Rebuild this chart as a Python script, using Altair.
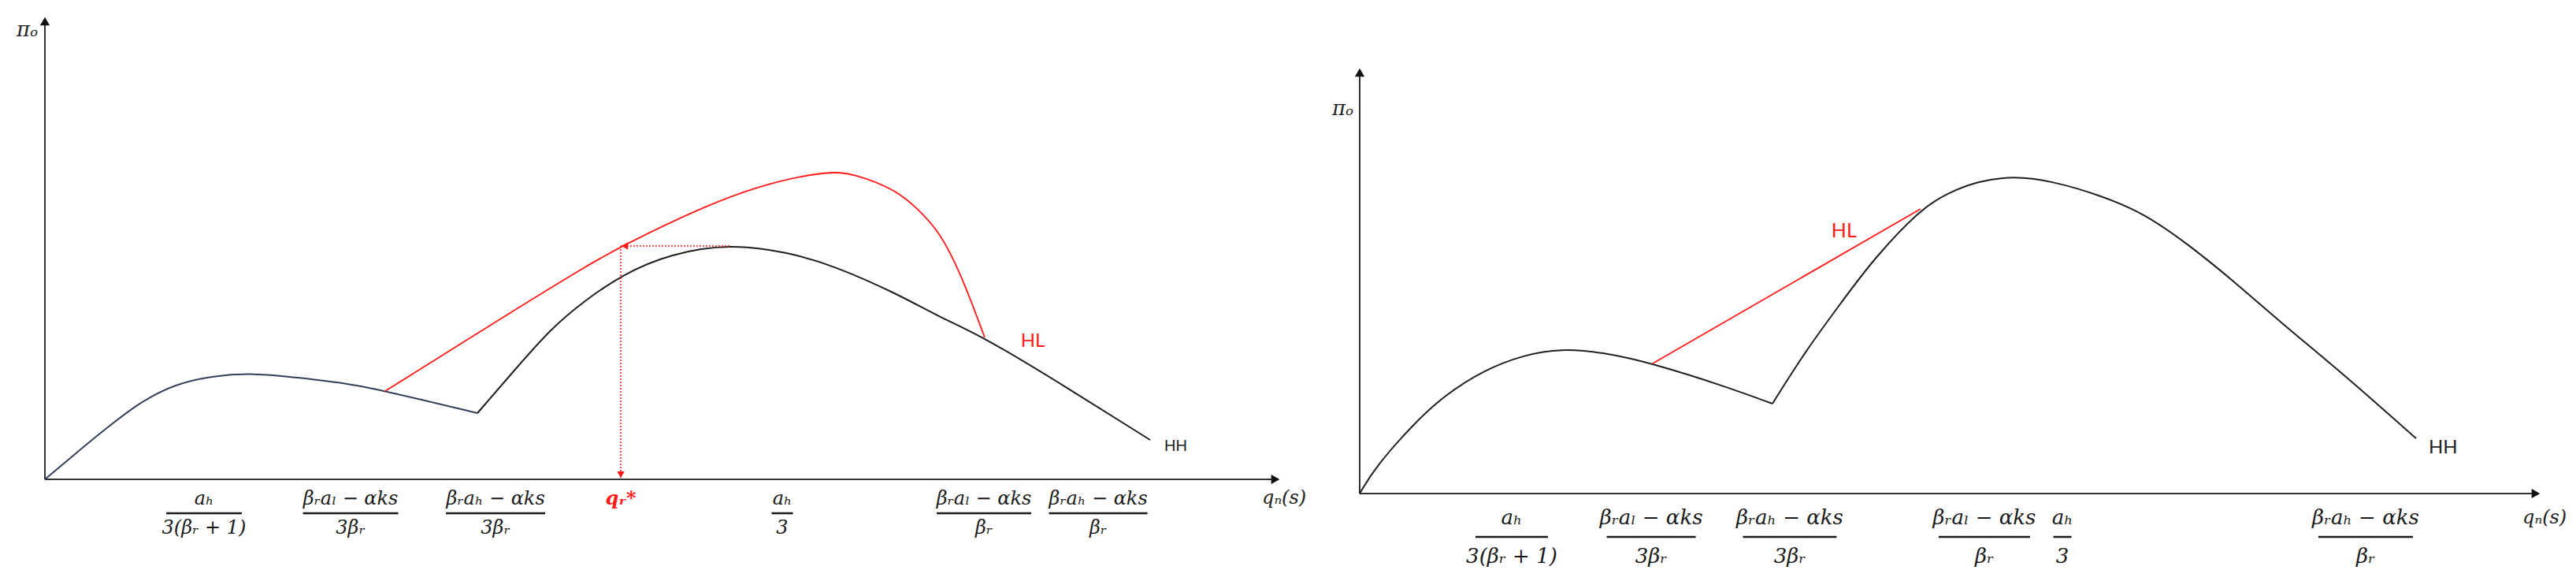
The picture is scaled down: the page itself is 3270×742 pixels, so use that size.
import altair as alt
import pandas as pd

# ---------------- data (arbitrary units: axes run 0..100) ----------------
# Left panel
L_HH1_Q = [0, 3.19, 4.92, 7.79, 10.60, 13.47, 16.86, 20.56, 24.84, 27.59, 35.06]
L_HH1_PI = [0, 7.18, 10.94, 16.92, 20.68, 22.39, 23.08, 22.05, 20.68, 19.15, 14.36]
L_HH2_Q = [35.06, 37.87, 41.06, 43.61, 46.81, 50.64, 55.56, 60.22, 63.79, 69.03, 72.48, 76.18, 82.89, 89.59]
L_HH2_PI = [14.36, 23.08, 32.82, 38.46, 44.44, 48.89, 51.11, 49.23, 46.50, 40.34, 35.21, 30.77, 19.83, 8.55]
L_HL_Q = [27.59, 37.87, 43.61, 46.62, 53.64, 58.62, 63.47, 65.58, 69.03, 70.75, 72.48, 74.20, 76.18]
L_HL_PI = [19.15, 36.41, 45.81, 50.43, 59.49, 64.27, 66.84, 66.32, 62.74, 58.63, 53.85, 44.96, 30.77]
L_QR_STAR = 46.68
L_DOT_PI = 50.6
L_HH_PEAK_Q = 55.6

# Right panel
R_HH1_Q = [0, 1.34, 4.74, 7.15, 10.55, 13.96, 17.03, 20.78, 24.85, 31.00, 35.00]
R_HH1_PI = [0, 6.32, 16.91, 23.05, 29.18, 32.71, 34.20, 33.27, 30.67, 25.28, 21.19]
R_HH2_Q = [35.00, 37.81, 40.88, 43.49, 47.56, 49.83, 52.37, 55.44, 58.78, 62.66, 66.47, 70.27, 74.15, 78.42, 83.30, 89.58]
R_HH2_PI = [21.19, 33.64, 45.17, 55.02, 67.10, 70.82, 73.61, 74.91, 73.61, 70.45, 66.17, 58.74, 50.00, 39.59, 28.44, 13.01]
R_HL_Q = [24.85, 47.56]
R_HL_PI = [30.67, 67.10]

# Tick labels (fractions) on the q axis
TICK_NUM = ["aₕ", "βᵣaₗ − αks", "βᵣaₕ − αks", "aₕ", "βᵣaₗ − αks", "βᵣaₕ − αks"]
TICK_DEN = ["3(βᵣ + 1)", "3βᵣ", "3βᵣ", "3", "βᵣ", "βᵣ"]
L_TICK_Q = [12.90, 24.78, 36.53, 59.77, 76.12, 85.38]
R_TICK_Q = [12.89, 24.72, 36.47, 59.59, 52.97, 85.30]
QR_LABEL = "qᵣ*"

# Curve labels (text, q, pi)
L_LABELS = [("HL", 79.1, 29.9), ("HH", 90.74, 7.18)]
R_LABELS = [("HL", 40.0, 61.9), ("HH", 90.65, 10.78)]
Y_TITLE = "πₒ"
X_TITLE = "qₙ(s)"

# ---------------- styles / layout ----------------
RED = "#ff1a1a"
AXIS_COLOR = "#333333"
MATH_FONT = "DejaVu Serif"
PANELS = {
    "left": dict(W=1660, H=726, x0=49, y0=600, kx=15.66, ky=5.85,
                 num_dy=25, bar_dy=43, den_dy=62, fs=24,
                 bar_w=[96, 121, 126, 27, 120, 125],
                 ytitle=(-0.57, 97.4), xtitle=(98.66, -4.10),
                 hh_font=("Liberation Sans", 20), hl_font=("Lato", 24),
                 c1="#34405a", c2="#1e1e1e"),
    "right": dict(W=1594, H=726, x0=58, y0=618, kx=14.97, ky=5.38,
                  num_dy=31, bar_dy=55, den_dy=80, fs=26,
                  bar_w=[92, 113, 119, 23, 116, 120],
                  ytitle=(-0.53, 90.7), xtitle=(98.6, -5.76),
                  hh_font=("Lato", 24), hl_font=("Lato", 25),
                  c1="#202020", c2="#202020"),
}


def make_panel(p, hh1, hh2, hl, tick_q, labels, qr=None):
    W, H = p["W"], p["H"]
    xdom = [-p["x0"] / p["kx"], (W - p["x0"]) / p["kx"]]
    ydom = [-(H - p["y0"]) / p["ky"], p["y0"] / p["ky"]]

    def X(f):
        return alt.X(f, type="quantitative", scale=alt.Scale(domain=xdom, nice=False, zero=False), axis=None)

    def Y(f):
        return alt.Y(f, type="quantitative", scale=alt.Scale(domain=ydom, nice=False, zero=False), axis=None)

    layers = []
    # axes
    axes_df = pd.DataFrame({"q": [0, 0], "pi": [0, 0], "q2": [100, 0], "pi2": [0, 100]})
    layers.append(alt.Chart(axes_df).mark_rule(color=AXIS_COLOR, strokeWidth=2).encode(
        x=X("q"), y=Y("pi"), x2="q2", y2="pi2"))
    layers.append(alt.Chart(pd.DataFrame({"q": [100], "pi": [0]})).mark_point(
        shape="triangle-right", filled=True, size=150, color="#111", opacity=1, xOffset=-4).encode(
        x=X("q"), y=Y("pi")))
    layers.append(alt.Chart(pd.DataFrame({"q": [0], "pi": [100]})).mark_point(
        shape="triangle-up", filled=True, size=150, color="#111", opacity=1, yOffset=4).encode(
        x=X("q"), y=Y("pi")))

    # curves
    rows = []
    for q, v in zip(*hh1):
        rows.append({"q": q, "pi": v, "seg": "a", "col": p["c1"]})
    for q, v in zip(*hh2):
        rows.append({"q": q, "pi": v, "seg": "b", "col": p["c2"]})
    layers.append(alt.Chart(pd.DataFrame(rows)).mark_line(interpolate="basis", strokeWidth=2).encode(
        x=X("q"), y=Y("pi"), detail="seg:N", color=alt.Color("col:N", scale=None)))
    layers.append(alt.Chart(pd.DataFrame({"q": hl[0], "pi": hl[1]})).mark_line(
        interpolate="basis", strokeWidth=1.8, color=RED).encode(x=X("q"), y=Y("pi")))

    # dotted guides to q_r*
    if qr is not None:
        qstar, dot_pi, peak_q = qr
        dd = pd.DataFrame({"q": [qstar, qstar], "pi": [dot_pi, dot_pi], "q2": [peak_q, qstar], "pi2": [dot_pi, 0]})
        layers.append(alt.Chart(dd).mark_rule(color=RED, strokeWidth=1.5, strokeDash=[2, 2]).encode(
            x=X("q"), y=Y("pi"), x2="q2", y2="pi2"))
        layers.append(alt.Chart(pd.DataFrame({"q": [qstar], "pi": [dot_pi]})).mark_point(
            shape="triangle-left", filled=True, size=90, color=RED, opacity=1, xOffset=5).encode(
            x=X("q"), y=Y("pi")))
        layers.append(alt.Chart(pd.DataFrame({"q": [qstar], "pi": [0]})).mark_point(
            shape="triangle-down", filled=True, size=90, color=RED, opacity=1, yOffset=-6).encode(
            x=X("q"), y=Y("pi")))
        layers.append(alt.Chart(pd.DataFrame({"q": [qstar], "pi": [0], "t": [QR_LABEL]})).mark_text(
            font=MATH_FONT, fontStyle="italic", fontWeight="bold", fontSize=p["fs"], color=RED,
            dy=p["num_dy"], baseline="middle").encode(x=X("q"), y=Y("pi"), text="t:N"))

    # fraction tick labels
    tdf = pd.DataFrame({"q": tick_q, "pi": [0] * len(tick_q), "num": TICK_NUM, "den": TICK_DEN,
                        "w": p["bar_w"]})
    layers.append(alt.Chart(tdf).mark_text(font=MATH_FONT, fontStyle="italic", fontSize=p["fs"],
                                           color="#1a1a1a", dy=p["num_dy"], baseline="middle").encode(
        x=X("q"), y=Y("pi"), text="num:N"))
    layers.append(alt.Chart(tdf).mark_text(font=MATH_FONT, fontStyle="italic", fontSize=p["fs"],
                                           color="#1a1a1a", dy=p["den_dy"], baseline="middle").encode(
        x=X("q"), y=Y("pi"), text="den:N"))
    layers.append(alt.Chart(tdf).mark_tick(orient="horizontal", thickness=2.5, color="#1a1a1a",
                                           yOffset=p["bar_dy"], opacity=1).encode(
        x=X("q"), y=Y("pi"), size=alt.Size("w:Q", scale=None)))

    # axis titles
    layers.append(alt.Chart(pd.DataFrame({"q": [p["ytitle"][0]], "pi": [p["ytitle"][1]], "t": [Y_TITLE]})).mark_text(
        font=MATH_FONT, fontStyle="italic", fontSize=26, color="#222", align="right",
        baseline="middle").encode(x=X("q"), y=Y("pi"), text="t:N"))
    layers.append(alt.Chart(pd.DataFrame({"q": [p["xtitle"][0]], "pi": [p["xtitle"][1]], "t": [X_TITLE]})).mark_text(
        font=MATH_FONT, fontStyle="italic", fontSize=24, color="#222", align="left",
        baseline="middle").encode(x=X("q"), y=Y("pi"), text="t:N"))

    # curve labels
    for txt, q, v in labels:
        fam, fs = p["hl_font"] if txt == "HL" else p["hh_font"]
        col = RED if txt == "HL" else "#222"
        layers.append(alt.Chart(pd.DataFrame({"q": [q], "pi": [v], "t": [txt]})).mark_text(
            font=fam, fontSize=fs, color=col, align="left", baseline="middle").encode(
            x=X("q"), y=Y("pi"), text="t:N"))

    return alt.layer(*layers).properties(width=W, height=H)


left = make_panel(PANELS["left"], (L_HH1_Q, L_HH1_PI), (L_HH2_Q, L_HH2_PI), (L_HL_Q, L_HL_PI),
                  L_TICK_Q, L_LABELS, qr=(L_QR_STAR, L_DOT_PI, L_HH_PEAK_Q))
right = make_panel(PANELS["right"], (R_HH1_Q, R_HH1_PI), (R_HH2_Q, R_HH2_PI), (R_HL_Q, R_HL_PI),
                   R_TICK_Q, R_LABELS)

chart = alt.hconcat(left, right, spacing=0).properties(padding=0).configure_view(stroke=None)
chart.save("out.html", embed_options={"renderer": "svg", "actions": False})
